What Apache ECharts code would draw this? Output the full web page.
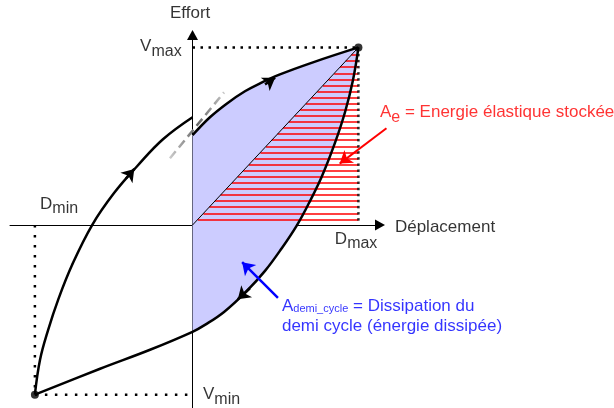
<!DOCTYPE html>
<html>
<head>
<meta charset="utf-8">
<script src="https://cdn.jsdelivr.net/npm/echarts@6/dist/echarts.min.js"></script>
<style>
  html, body { margin: 0; padding: 0; background: #fff; }
  #chart { width: 614px; height: 408px; }
</style>
</head>
<body>
<div id="chart"></div>
<script>
  // unités réduites : Dmax = Vmax = 1
  var pMax = [1, 1];
  var pMin = [-0.95, -0.955];

  // branche de chargement (partie gauche, jusqu'à l'axe des efforts)
  var chargeGauche = [[-0.95, -0.955], [-0.919, -0.758], [-0.870, -0.590], [-0.810, -0.421],
    [-0.726, -0.225], [-0.605, 0], [-0.473, 0.180], [-0.334, 0.331], [-0.178, 0.483], [0, 0.607]];
  // branche de chargement (partie droite)
  var chargeDroite = [[0, 0.506], [0.105, 0.607], [0.208, 0.685], [0.316, 0.753], [0.407, 0.798],
    [0.527, 0.848], [0.726, 0.916], [1, 1]];
  // branche de déchargement
  var decharge = [[1, 1], [0.967, 0.815], [0.919, 0.635], [0.858, 0.461], [0.780, 0.275],
    [0.702, 0.124], [0.630, 0], [0.539, -0.129], [0.437, -0.258], [0.322, -0.376],
    [0.190, -0.489], [0.075, -0.562], [0, -0.601], [-0.256, -0.702], [-0.557, -0.809],
    [-0.95, -0.955]];
  // prolongement en tirets
  var tangente = [[-0.136, 0.376], [0.190, 0.747]];
  // niveaux des hachures rouges
  var hachures = [0.032, 0.066, 0.101, 0.135, 0.169, 0.203, 0.238, 0.272, 0.306, 0.340,
    0.375, 0.409, 0.443, 0.478, 0.512, 0.546, 0.580, 0.615, 0.649, 0.683,
    0.717, 0.752, 0.786, 0.820, 0.854, 0.889, 0.923, 0.957];
  // flèches de sens de parcours (départ, pointe)
  var flechesSens = [
    [[-0.401, 0.262], [-0.351, 0.316]],
    [[0.437, 0.792], [0.498, 0.830]],
    [[0.346, -0.356], [0.273, -0.418]]
  ];
  var flecheAe = [[1.169, 0.545], [0.887, 0.346]];
  var flecheDemi = [[0.515, -0.410], [0.299, -0.209]];

  // zone bleue : entre chargement droit et déchargement, côté D > 0
  var zoneBleue = chargeDroite.concat(decharge.slice(1, 13));

  var police = '"Liberation Sans", Arial, sans-serif';
  var richNoir = {
    m: { fontSize: 17, fontFamily: police, color: '#000' },
    s: { fontSize: 16, fontFamily: police, color: '#000', padding: [10, 0, 0, 0] }
  };

  function etiquette(pos, texte, rich) {
    return {
      value: pos,
      label: { show: true, position: 'right', distance: 0, formatter: texte, rich: rich || richNoir }
    };
  }

  var myChart = echarts.init(document.getElementById('chart'));

  var axe = {
    type: 'value',
    axisLine: {
      show: true, onZero: true,
      symbol: ['none', 'triangle'], symbolSize: [11, 10],
      lineStyle: { color: '#000', width: 1 }
    },
    axisTick: { show: false },
    axisLabel: { show: false },
    splitLine: { show: false }
  };

  var trait = function (data, style, z) {
    return {
      type: 'line', data: data, smooth: false, showSymbol: false, symbol: 'none',
      clip: false, silent: true, z: z, lineStyle: style
    };
  };

  var option = {
    animation: false,
    grid: { left: 10, right: 234, top: 35, bottom: 0, outerBoundsMode: 'none' },
    xAxis: Object.assign({}, axe, { min: -1.1, max: 1.13 }),
    yAxis: Object.assign({}, axe, { min: -1.03, max: 1.07 }),
    series: [
      {
        type: 'custom', clip: false, silent: true, z: 1,
        data: [[0, 0]],
        renderItem: function (params, api) {
          return {
            type: 'polygon',
            shape: { points: zoneBleue.map(function (p) { return api.coord(p); }), smooth: 0 },
            style: { fill: '#ccccff' }
          };
        }
      },
      {
        type: 'lines', coordinateSystem: 'cartesian2d', silent: true, z: 2, clip: false,
        symbol: 'none',
        data: hachures.map(function (v) { return { coords: [[v, v], [1, v]] }; }),
        lineStyle: { color: '#ff0000', width: 1.5, opacity: 1 }
      },
      {
        type: 'scatter', silent: true, z: 2, clip: false, symbol: 'rect', symbolSize: 2.5,
        itemStyle: { color: '#000' },
        data: hachures.map(function (v) { return [1, v]; })
      },
      trait([[0, 0], pMax], { color: '#000', width: 1 }, 3),
      trait([[0, 1], pMax], { color: '#000', width: 2.5, type: [2.5, 5.5] }, 3),
      trait([[pMin[0], 0], pMin], { color: '#000', width: 2.5, type: [2.5, 7.5] }, 3),
      trait([pMin, [0, pMin[1]]], { color: '#000', width: 2.5, type: [2.5, 7.5] }, 3),
      trait(tangente, {
        width: 2.5, type: [9, 5],
        color: new echarts.graphic.LinearGradient(0, 0, 1, 0, [
          { offset: 0, color: '#d4d4d4' }, { offset: 0.5, color: '#666' }, { offset: 1, color: '#cccccc' }
        ])
      }, 3),
      Object.assign(trait(chargeGauche, { color: '#000', width: 2.5 }, 4), { smooth: 0.4 }),
      Object.assign(trait(chargeDroite, { color: '#000', width: 2.5 }, 4), { smooth: 0.4 }),
      Object.assign(trait(decharge, { color: '#000', width: 2.5 }, 4), { smooth: 0.4 }),
      {
        type: 'lines', coordinateSystem: 'cartesian2d', silent: true, z: 5, clip: false,
        symbol: ['none', 'arrow'], symbolSize: 12,
        data: flechesSens.map(function (c) { return { coords: c }; }),
        lineStyle: { color: '#000', width: 2.5, opacity: 1 }
      },
      {
        type: 'lines', coordinateSystem: 'cartesian2d', silent: true, z: 5, clip: false,
        symbol: ['none', 'arrow'], symbolSize: 12,
        data: [{ coords: flecheAe }],
        lineStyle: { color: '#ff0000', width: 2, opacity: 1 }
      },
      {
        type: 'lines', coordinateSystem: 'cartesian2d', silent: true, z: 5, clip: false,
        symbol: ['none', 'arrow'], symbolSize: 12,
        data: [{ coords: flecheDemi }],
        lineStyle: { color: '#0000ff', width: 2.5, opacity: 1 }
      },
      {
        type: 'scatter', silent: true, z: 6, clip: false, symbolSize: 8,
        itemStyle: { color: '#000' },
        data: [pMax, pMin]
      },
      {
        type: 'scatter', silent: true, z: 7, clip: false, symbolSize: 0,
        itemStyle: { color: 'transparent' },
        data: [
          etiquette([-0.136, 1.191], '{m|Effort}'),
          etiquette([1.220, -0.011], '{m|Déplacement}'),
          etiquette([-0.316, 1.006], '{m|V}{s|max}'),
          etiquette([-0.919, 0.118], '{m|D}{s|min}'),
          etiquette([0.858, -0.079], '{m|D}{s|max}'),
          etiquette([0.063, -0.955], '{m|V}{s|min}'),
          etiquette([1.130, 0.635], '{m|A}{s|e}{m| = Energie élastique stockée}', {
            m: { fontSize: 17, fontFamily: police, color: '#ff0000' },
            s: { fontSize: 16, fontFamily: police, color: '#ff0000', padding: [10, 0, 0, 0] }
          }),
          etiquette([0.539, -0.511], '{m|A}{s|demi_cycle}{m| = Dissipation du}\n{m|demi cycle (énergie dissipée)}', {
            m: { fontSize: 17, fontFamily: police, color: '#0000ff', lineHeight: 20 },
            s: { fontSize: 11, fontFamily: police, color: '#0000ff', lineHeight: 20, padding: [7, 0, 0, 0] }
          })
        ]
      }
    ]
  };

  myChart.setOption(option);
</script>
</body>
</html>
